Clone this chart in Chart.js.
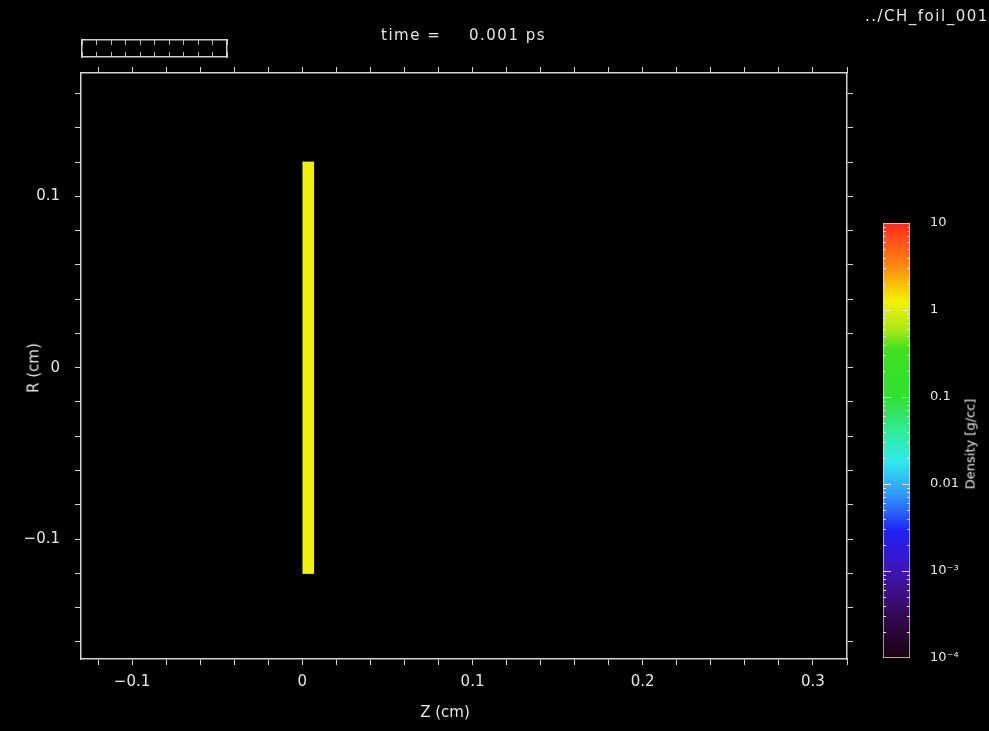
<!DOCTYPE html>
<html>
<head>
<meta charset="utf-8">
<title>CH_foil_001</title>
<script src="https://cdn.jsdelivr.net/npm/chart.js@4.4.1/dist/chart.umd.min.js"></script>
<style>
  html, body { margin: 0; padding: 0; background: #000; }
  #wrap { position: relative; width: 989px; height: 731px; overflow: hidden; background: #000;
          font-family: "DejaVu Sans", sans-serif; color: #e6e6e6; }
  canvas { position: absolute; }
  #main { left: 0; top: 0; }
  #cbar { left: 870px; top: 200px; }
  #progress { left: 70px; top: 30px; }
  .txt { position: absolute; white-space: nowrap; font-size: 15px; line-height: 1; }
  .ctr { transform: translate(-50%, -50%); }
  .rot { transform: translate(-50%, -50%) rotate(-90deg); }
</style>
</head>
<body>
<div id="wrap">
  <canvas id="main" width="989" height="731"></canvas>
  <canvas id="cbar" width="119" height="480"></canvas>
  <canvas id="progress" width="170" height="40"></canvas>

  <div class="txt" style="left:381px; top:28px; letter-spacing:1.5px;">time =</div>
  <div class="txt" style="left:469px; top:28px; letter-spacing:1.5px;">0.001 ps</div>
  <div class="txt" style="left:865px; top:9px; letter-spacing:1.5px;">../CH_foil_001</div>
  <div class="txt ctr" style="left:445px; top:712px;">Z (cm)</div>
  <div class="txt rot" style="left:34px; top:368px;">R (cm)</div>
  <div class="txt rot" style="left:970px; top:444px; font-size:13px; color:#ececec;">Density [g/cc]</div>
</div>

<script>
// axis ranges (cm)
const zRange = [-0.13, 0.32];
const rRange = [-0.17, 0.172];

// tick positions and labelled ticks
const zTicks = [-0.12, -0.10, -0.08, -0.06, -0.04, -0.02, 0, 0.02, 0.04, 0.06, 0.08, 0.10,
                0.12, 0.14, 0.16, 0.18, 0.20, 0.22, 0.24, 0.26, 0.28, 0.30, 0.32];
const zMajor = [-0.1, 0, 0.1, 0.2, 0.3];
const zMajorLabels = ['\u22120.1', '0', '0.1', '0.2', '0.3'];
const rTicks = [-0.16, -0.14, -0.12, -0.10, -0.08, -0.06, -0.04, -0.02, 0,
                0.02, 0.04, 0.06, 0.08, 0.10, 0.12, 0.14, 0.16];
const rMajor = [-0.1, 0, 0.1];
const rMajorLabels = ['\u22120.1', '0', '0.1'];

// CH foil extent
const foilZ = [0, 0.007];
const foilR = [-0.12, 0.12];
const foilColor = '#f2f200';

// density colour scale (g/cc)
const cbarRange = [1e-4, 10];
const cbarDecades = [1e-4, 1e-3, 1e-2, 1e-1, 1, 10];
const cbarDecadeLabels = ['10\u207b\u2074', '10\u207b\u00b3', '0.01', '0.1', '1', '10'];
const cbarMinor = [2, 3, 4, 5, 6, 7, 8, 9];
const cmapDensity = [1e-4, 3e-4, 6e-4, 1.3e-3, 2.8e-3, 7e-3, 0.018, 0.04, 0.1, 0.35, 0.6, 1.25, 3.2, 10];
const cmapColors  = ['#1a0010', '#320a50', '#40108c', '#3a18c8', '#2020f4', '#3090ff', '#30e8ec',
                     '#30ec9c', '#30e030', '#40e020', '#a8ea18', '#f2f200', '#ff8a10', '#ff2a1e'];

// time progress bar
const progressTicks = [0, 1, 2, 3, 4, 5, 6, 7, 8, 9, 10];

const axisColor = '#d4d4d4';
const textColor = '#e6e6e6';
const tickFont = { family: 'DejaVu Sans', size: 15 };

function labelFor(majors, labels) {
  return function (value) {
    const i = majors.findIndex((m) => Math.abs(m - value) < 1e-9);
    return i >= 0 ? labels[i] : '';
  };
}

function fixSize(position, size) {
  const horizontal = position === 'top' || position === 'bottom';
  return (scale) => {
    if (horizontal) scale.height = size; else scale.width = size;
  };
}

function frameAxis(position, ticks, range, size, withLabels, majors, labels) {
  const horizontal = position === 'top' || position === 'bottom';
  return {
    type: 'linear',
    position: position,
    min: range[0],
    max: range[1],
    afterBuildTicks: (scale) => { scale.ticks = ticks.map((v) => ({ value: v })); },
    afterFit: fixSize(position, size),
    ticks: {
      display: withLabels,
      autoSkip: false,
      maxRotation: 0,
      includeBounds: false,
      color: textColor,
      font: tickFont,
      padding: horizontal ? 8 : 15,
      callback: withLabels ? labelFor(majors, labels) : () => '',
    },
    grid: {
      display: true,
      drawOnChartArea: false,
      drawTicks: true,
      tickLength: 6,
      tickColor: axisColor,
      tickWidth: 1,
    },
    border: { display: true, color: axisColor, width: 1.5 },
  };
}

// main R-Z plot
new Chart(document.getElementById('main'), {
  type: 'line',
  data: {
    datasets: [
      {
        label: 'foil top',
        data: [{ x: foilZ[0], y: foilR[1] }, { x: foilZ[1], y: foilR[1] }],
        borderColor: foilColor,
        backgroundColor: foilColor,
        borderWidth: 1,
        pointRadius: 0,
        fill: '+1',
      },
      {
        label: 'foil bottom',
        data: [{ x: foilZ[0], y: foilR[0] }, { x: foilZ[1], y: foilR[0] }],
        borderColor: foilColor,
        backgroundColor: foilColor,
        borderWidth: 1,
        pointRadius: 0,
        fill: false,
      },
    ],
  },
  options: {
    responsive: false,
    animation: false,
    devicePixelRatio: 1,
    layout: { padding: 0 },
    scales: {
      x: frameAxis('bottom', zTicks, zRange, 72, true, zMajor, zMajorLabels),
      x2: frameAxis('top', zTicks, zRange, 73, false),
      y: frameAxis('left', rTicks, rRange, 81, true, rMajor, rMajorLabels),
      y2: frameAxis('right', rTicks, rRange, 142, false),
    },
    plugins: { legend: { display: false }, tooltip: { enabled: false } },
  },
});

// short ticks inside both edges of the colour bar
const innerTicks = {
  id: 'innerTicks',
  afterDatasetsDraw(chart) {
    const { ctx, chartArea } = chart;
    const scale = chart.scales.y;
    ctx.save();
    ctx.strokeStyle = '#e4e4e4';
    ctx.lineWidth = 1;
    scale.ticks.forEach((t) => {
      if (t.value <= cbarRange[0] || t.value >= cbarRange[1]) return;
      const y = Math.round(scale.getPixelForValue(t.value)) + 0.5;
      const len = t.major ? 8 : 3;
      ctx.beginPath();
      ctx.moveTo(chartArea.left, y);
      ctx.lineTo(chartArea.left + len, y);
      ctx.moveTo(chartArea.right, y);
      ctx.lineTo(chartArea.right - len, y);
      ctx.stroke();
    });
    ctx.restore();
  },
};

function cbarGradient(context) {
  const chart = context.chart;
  if (!chart.chartArea) return null;
  const scale = chart.scales.y;
  const y0 = scale.getPixelForValue(cbarRange[0]);
  const y1 = scale.getPixelForValue(cbarRange[1]);
  const g = chart.ctx.createLinearGradient(0, y0, 0, y1);
  const span = Math.log10(cbarRange[1]) - Math.log10(cbarRange[0]);
  cmapDensity.forEach((d, i) => {
    g.addColorStop((Math.log10(d) - Math.log10(cbarRange[0])) / span, cmapColors[i]);
  });
  return g;
}

const cbarTicks = [];
cbarDecades.forEach((d, i) => {
  cbarTicks.push({ value: d, major: true });
  if (i < cbarDecades.length - 1) cbarMinor.forEach((m) => cbarTicks.push({ value: m * d, major: false }));
});

// density colour bar
new Chart(document.getElementById('cbar'), {
  type: 'bar',
  data: {
    labels: ['density'],
    datasets: [{
      data: [cbarRange],
      backgroundColor: cbarGradient,
      borderColor: '#e6dce4',
      borderWidth: 1,
      borderSkipped: false,
      barPercentage: 1,
      categoryPercentage: 1,
    }],
  },
  options: {
    responsive: false,
    animation: false,
    devicePixelRatio: 1,
    layout: { padding: { left: 13, top: 23, bottom: 22, right: 0 } },
    scales: {
      x: { display: false },
      y: {
        type: 'logarithmic',
        position: 'right',
        min: cbarRange[0],
        max: cbarRange[1],
        afterBuildTicks: (scale) => { scale.ticks = cbarTicks.map((t) => ({ ...t })); },
        afterFit: (scale) => { scale.width = 79; },
        ticks: {
          autoSkip: false,
          color: textColor,
          font: { family: 'DejaVu Sans', size: 13 },
          padding: 12,
          callback: labelFor(cbarDecades, cbarDecadeLabels),
        },
        grid: { display: false },
        border: { display: false },
      },
    },
    plugins: { legend: { display: false }, tooltip: { enabled: false } },
  },
  plugins: [innerTicks],
});

// empty time progress box
const boxAxis = (position, max) => ({
  type: 'linear',
  display: true,
  position: position,
  min: 0,
  max: max,
  afterFit: fixSize(position, 0),
  ticks: { display: false },
  grid: { display: false, drawTicks: false },
  border: { display: true, color: '#d0d0d0', width: 1.5 },
});

new Chart(document.getElementById('progress'), {
  type: 'line',
  data: { datasets: [] },
  options: {
    responsive: false,
    animation: false,
    devicePixelRatio: 1,
    layout: { padding: { left: 12, right: 13, top: 10, bottom: 13 } },
    scales: {
      x: {
        type: 'linear',
        min: progressTicks[0],
        max: progressTicks[progressTicks.length - 1],
        afterBuildTicks: (scale) => { scale.ticks = progressTicks.map((v) => ({ value: v })); },
        afterFit: fixSize('bottom', 0),
        ticks: { display: false },
        grid: { display: true, drawOnChartArea: true, drawTicks: false, color: '#bdbdbd', lineWidth: 1 },
        border: { display: true, color: '#d0d0d0', width: 1.5, dash: [5, 7] },
      },
      x2: boxAxis('top', 10),
      y: boxAxis('left', 1),
      y2: boxAxis('right', 1),
    },
    plugins: { legend: { display: false }, tooltip: { enabled: false } },
  },
});
</script>
</body>
</html>
